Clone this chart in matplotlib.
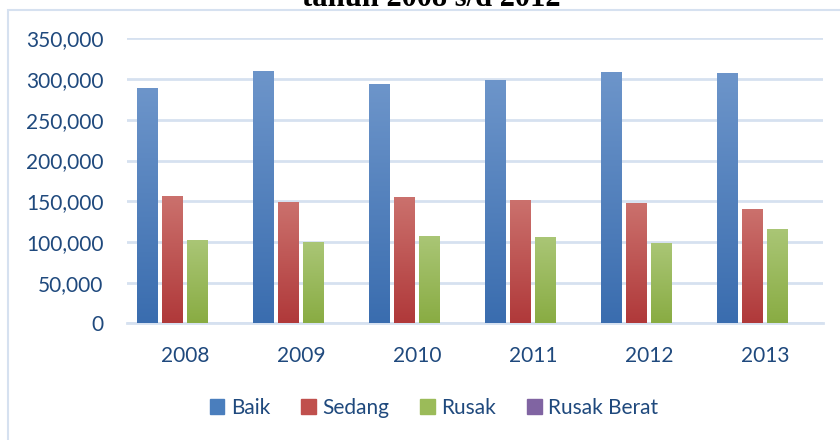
import matplotlib
matplotlib.use("Agg")
import matplotlib.pyplot as plt
import matplotlib.patches as mpatches
import matplotlib.colors as mcolors
import numpy as np
from matplotlib.ticker import FuncFormatter

# data
years = ["2008", "2009", "2010", "2011", "2012", "2013"]
series_names = ["Baik", "Sedang", "Rusak", "Rusak Berat"]
baik = [289000, 310000, 294000, 299000, 308700, 307500]
sedang = [156400, 149000, 155200, 151500, 147800, 140400]
rusak = [102300, 99900, 107200, 106000, 98600, 115800]
rusak_berat = [0, 0, 0, 0, 0, 0]

# (top, bottom) gradient colours per series
grad = [("#6D95CA", "#3A6DAF"),
        ("#CB716D", "#B0393A"),
        ("#AAC676", "#89AC43"),
        ("#9A82BA", "#7359A0")]
solid = ["#4A7EBD", "#C0504D", "#9BBB59", "#8064A2"]

text_col = "#1F497D"
grid_col = "#D6E1F0"
font = ["Lato", "DejaVu Sans"]
plt.rcParams["font.family"] = font

fig = plt.figure(figsize=(8.4, 4.4), dpi=100)
ax = fig.add_axes([127 / 840, 1 - 323.3 / 440, 696 / 840, (323.3 - 38.5) / 440])

values = [baik, sedang, rusak, rusak_berat]
x = np.arange(len(years))
step = 25 / 116
width = 21 / 116

for j, vals in enumerate(values):
    pos = x + (j - 1.5) * step
    bars = ax.bar(pos, vals, width=width, color=solid[j], zorder=3, linewidth=0)
    cmap = mcolors.LinearSegmentedColormap.from_list("g%d" % j, [grad[j][1], grad[j][0]])
    for b in bars:
        h = b.get_height()
        if h <= 0:
            continue
        gx, gw = b.get_x(), b.get_width()
        im = ax.imshow(np.linspace(0, 1, 100).reshape(-1, 1), cmap=cmap, origin="lower",
                       extent=[gx, gx + gw, 0, h], aspect="auto", zorder=4)
        im.set_clip_path(b)

ax.set_xlim(-0.5, len(years) - 0.5)
ax.set_ylim(0, 350000)
ax.set_aspect("auto")
ax.set_yticks(np.arange(0, 350001, 50000))
ax.yaxis.set_major_formatter(FuncFormatter(lambda v, p: "{:,.0f}".format(v)))
ax.set_xticks(x)
ax.set_xticklabels(years)
ax.grid(axis="y", color=grid_col, linewidth=2, zorder=0)
ax.set_axisbelow(True)
for s in ["top", "right", "left"]:
    ax.spines[s].set_visible(False)
ax.spines["bottom"].set_color(grid_col)
ax.spines["bottom"].set_linewidth(2)
ax.tick_params(axis="both", length=0, labelsize=15, labelcolor=text_col)
ax.tick_params(axis="y", pad=17)
ax.tick_params(axis="x", pad=16)

# legend
handles = [mpatches.Patch(color=c, label=n) for c, n in zip(solid, series_names)]
fig.legend(handles=handles, loc="center", bbox_to_anchor=(434 / 840, 1 - 408 / 440),
           ncol=4, frameon=False, fontsize=15, labelcolor=text_col,
           handlelength=0.7, handleheight=0.7, handletextpad=0.3, columnspacing=1.5)

# chart border
fig.patches.append(mpatches.Rectangle((8 / 840, -0.1), 2, 1 - 10 / 440 + 0.1,
                                      transform=fig.transFigure, fill=False,
                                      edgecolor=grid_col, linewidth=1.5))

# title, cut off by the top edge as in the reference
fig.text(431 / 840, 1 - 6 / 440, "tahun 2008 s/d 2012", ha="center", va="baseline",
         fontsize=22, fontweight="bold", family=["Liberation Serif", "DejaVu Serif"],
         color="black")

fig.savefig("out.png", dpi=100, facecolor="white")
